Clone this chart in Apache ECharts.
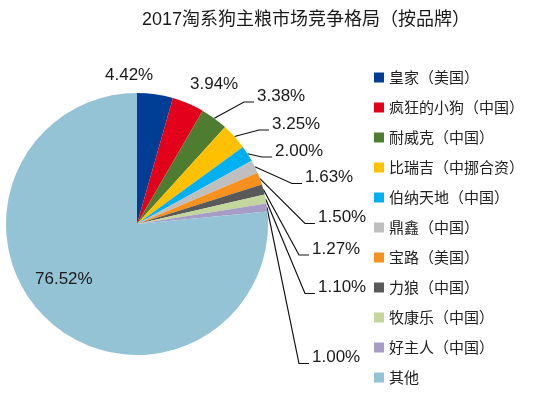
<!DOCTYPE html>
<html lang="zh-CN">
  <head>
    <meta charset="UTF-8" />
    <title>2017淘系狗主粮市场竞争格局</title>
    <style>
      html, body { margin: 0; padding: 0; background: #fff; }
      #main { width: 550px; height: 399px; }
    </style>
    <script src="https://cdn.jsdelivr.net/npm/echarts@6/dist/echarts.min.js"></script>
  </head>
  <body>
    <div id="main"></div>
    <script>
      // 品牌 & 市场份额（%）
      const brands = [
        '皇家（美国）', '疯狂的小狗（中国）', '耐威克（中国）', '比瑞吉（中挪合资）',
        '伯纳天地（中国）', '鼎鑫（中国）', '宝路（美国）', '力狼（中国）',
        '牧康乐（中国）', '好主人（中国）', '其他'
      ]
      const shares = [4.42, 3.94, 3.38, 3.25, 2.00, 1.63, 1.50, 1.27, 1.10, 1.00, 76.52]
      const colors = [
        '#003e96', '#e2001a', '#4e7d32', '#ffc000', '#00b0f0', '#bfbfbf',
        '#f5911c', '#595959', '#c3d69b', '#a79cc6', '#93c3d5'
      ]

      // 标签位置（左边缘 x，中心 y）
      const labelPos = [
        [105, 75], [190, 84], [257, 96], [272, 124], [275, 151], [305, 177.5],
        [318, 217.5], [312, 249], [318, 287.5], [312, 357.5], [35, 279]
      ]
      const noLine = [0, 1, 10]

      const chart = echarts.init(document.getElementById('main'))

      const option = {
        animation: false,
        color: colors,
        title: {
          text: '2017淘系狗主粮市场竞争格局（按品牌）',
          left: 142,
          top: 11,
          padding: 0,
          textStyle: {
            fontFamily: 'Liberation Sans, "Noto Sans CJK SC"',
            fontSize: 18,
            fontWeight: 'normal',
            color: '#1a1a1a'
          }
        },
        legend: {
          orient: 'vertical',
          left: 374,
          top: 70,
          padding: 0,
          itemWidth: 10,
          itemHeight: 10,
          itemGap: 15,
          icon: 'rect',
          data: brands,
          textStyle: {
            fontFamily: '"Noto Sans CJK SC"',
            fontSize: 15,
            color: '#222'
          }
        },
        series: [
          {
            type: 'pie',
            center: [137, 224],
            radius: 131,
            startAngle: 90,
            clockwise: true,
            avoidLabelOverlap: false,
            label: {
              show: true,
              position: 'outside',
              fontFamily: 'Liberation Sans, Arial',
              fontSize: 17,
              color: '#1a1a1a',
              formatter: p => p.value.toFixed(2) + '%'
            },
            labelLine: {
              show: true,
              length: 10,
              length2: 10,
              lineStyle: { color: '#111', width: 1.2 }
            },
            labelLayout: params => {
              const i = params.dataIndex
              const [lx, ly] = labelPos[i]
              const out = { x: lx, y: ly, align: 'left', verticalAlign: 'middle' }
              const pts = params.labelLinePoints
              if (pts && noLine.indexOf(i) < 0) {
                out.labelLinePoints = [
                  pts[0],
                  [lx - 13, ly + 6],
                  [lx - 3, ly + 6]
                ]
              }
              return out
            },
            data: brands.map((name, i) => ({
              name,
              value: shares[i],
              labelLine: { show: noLine.indexOf(i) < 0 }
            }))
          }
        ]
      }

      chart.setOption(option)
    </script>
  </body>
</html>
